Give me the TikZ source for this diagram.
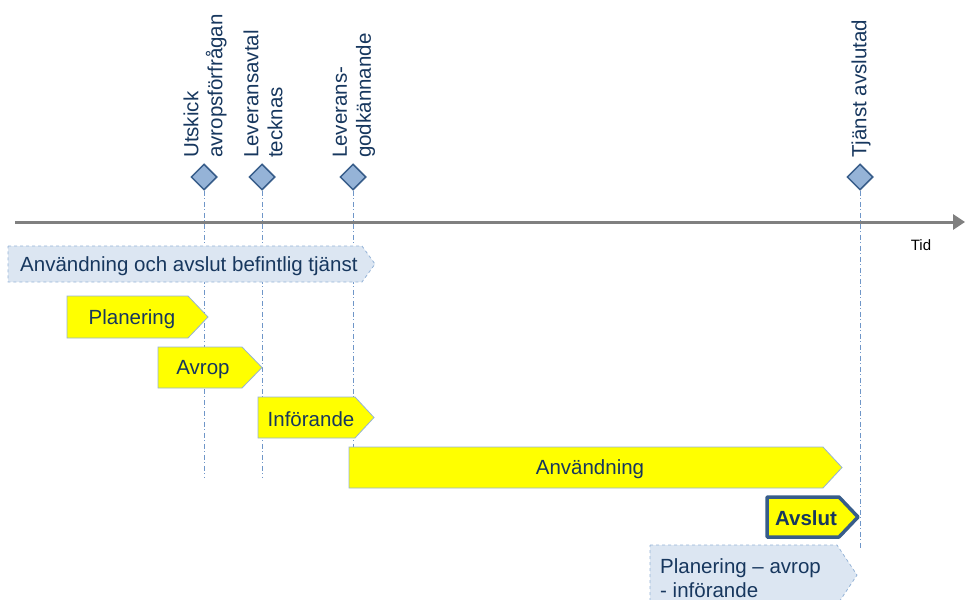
\documentclass[tikz,border=0pt]{standalone}
\usepackage{fontspec}
\setmainfont{Liberation Sans}
\usetikzlibrary{shapes.geometric,arrows.meta}
\definecolor{navy}{HTML}{17375E}
\definecolor{edgeblue}{HTML}{95B3D7}
\definecolor{paleblue}{HTML}{DCE6F2}
\definecolor{msfill}{HTML}{95B3D7}
\definecolor{msedge}{HTML}{385D8A}
\definecolor{guideblue}{HTML}{6F96C8}
\definecolor{axisgray}{HTML}{808080}
\definecolor{phaseyellow}{RGB}{255,255,0}
\begin{document}
\begin{tikzpicture}[x=1pt,y=-1pt,
  lbl/.style={text=navy, font=\fontsize{20.5}{24}\selectfont, inner sep=0pt},
  phase/.style={fill=phaseyellow, draw=edgeblue, line width=0.8pt},
  oldphase/.style={fill=paleblue, draw=edgeblue, dashed, line width=0.8pt},
  endphase/.style={fill=phaseyellow, draw=msedge, line width=3.5pt, line join=round},
  milestone/.style={diamond, aspect=1, minimum width=26pt, minimum height=26pt,
    inner sep=0pt, fill=msfill, draw=msedge, line width=1.5pt},
  mslabel/.style={lbl, rotate=90, anchor=west, align=left},
  guide/.style={draw=guideblue, line width=0.7pt, dash pattern=on 5pt off 2.5pt on 1pt off 2.5pt},
  axis/.style={draw=axisgray, line width=3pt, -{Triangle[length=12pt,width=15pt]}}]
\useasboundingbox (0,0) rectangle (965,599);

% milestones on the time line
\node[milestone] (m1) at (204,177) {};
\node[milestone] (m2) at (262,177) {};
\node[milestone] (m3) at (353,177) {};
\node[milestone] (m4) at (860,177) {};

\node[mslabel] (l1) at (205,158) {Utskick\\avropsförfrågan};
\node[mslabel] (l2) at (263,158) {Leveransavtal\\tecknas};
\node[mslabel] (l3) at (354,158) {Leverans-\\godkännande};
\node[mslabel] (l4) at (861,158) {Tjänst avslutad};

% guide lines dropping from each milestone
\coordinate (g1) at (204,478);
\coordinate (g2) at (262,478);
\coordinate (g3) at (353,447);
\coordinate (g4) at (860,550);
\draw[guide] (m1) -- (g1);
\draw[guide] (m2) -- (g2);
\draw[guide] (m3) -- (g3);
\draw[guide] (m4) -- (g4);

% time axis
\coordinate (t0) at (15,222);
\coordinate (t1) at (965,222);
\draw[axis] (t0) -- (t1);
\node[font=\fontsize{15}{18}\selectfont, inner sep=0pt] (tid) at (921,245) {Tid};

% phases
\draw[oldphase] (8,246) -- (362,246) -- (375,264) -- (362,282) -- (8,282) -- cycle;
\node[lbl, anchor=west] (p0) at (20,266) {Användning och avslut befintlig tjänst};

\draw[phase] (67,296) -- (188,296) -- (208,317) -- (188,338) -- (67,338) -- cycle;
\node[lbl] (p1) at (132,319) {Planering};

\draw[phase] (158,347) -- (242,347) -- (262,367.5) -- (242,388) -- (158,388) -- cycle;
\node[lbl] (p2) at (203,369.5) {Avrop};

\draw[phase] (258,397) -- (355,397) -- (374,417.5) -- (355,438) -- (258,438) -- cycle;
\node[lbl] (p3) at (311,419.5) {Införande};

\draw[phase] (349,447) -- (823,447) -- (842,467.5) -- (823,488) -- (349,488) -- cycle;
\node[lbl] (p4) at (590,469.5) {Användning};

\draw[endphase] (767,497) -- (839,497) -- (858,517) -- (839,537) -- (767,537) -- cycle;
\node[lbl, font=\fontsize{20.5}{24}\selectfont\bfseries] (p5) at (806,518) {Avslut};

\draw[oldphase] (650,545) -- (837,545) -- (857,575) -- (837,605) -- (650,605) -- cycle;
\node[lbl, anchor=west, align=left] (p6) at (660,578) {Planering – avrop\\- införande};
\end{tikzpicture}
\end{document}
